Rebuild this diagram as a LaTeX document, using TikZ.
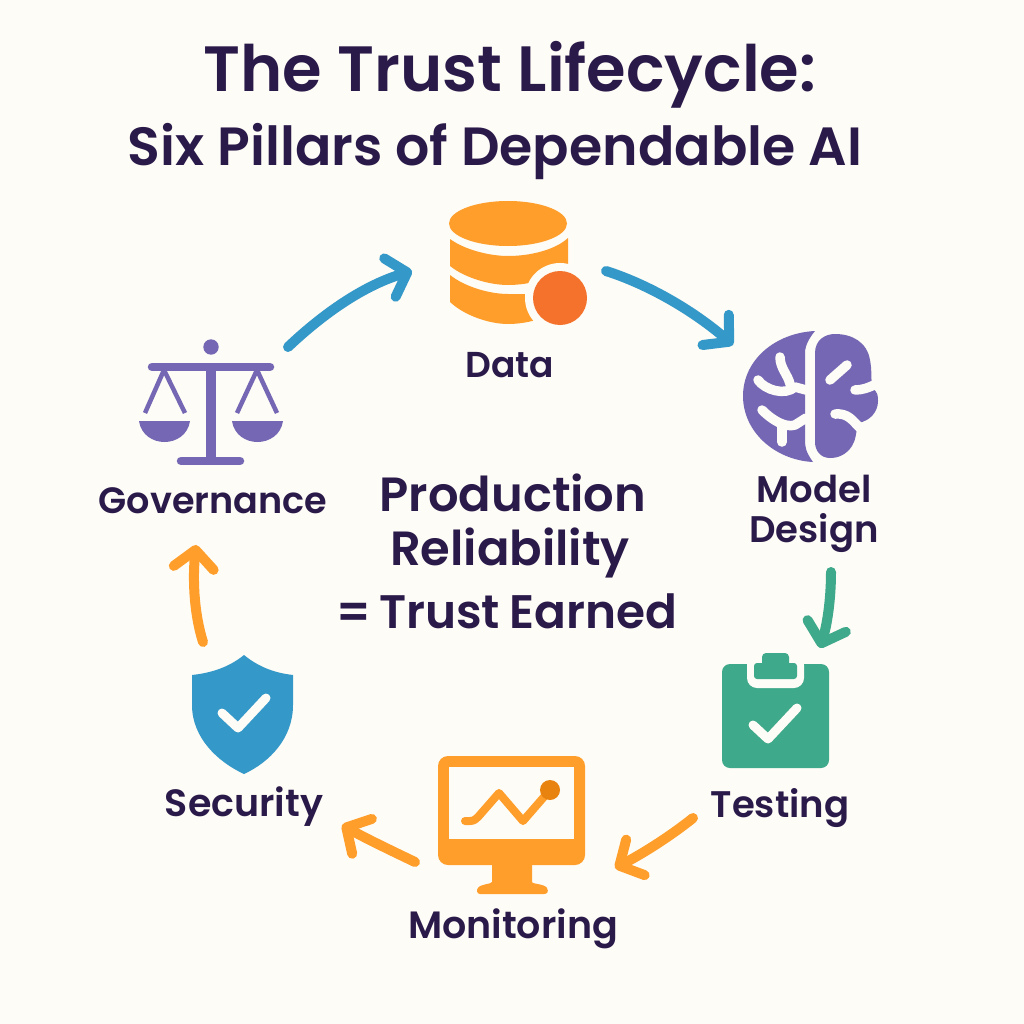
\documentclass[tikz,border=0pt]{standalone}
\usepackage{fontspec}
\setmainfont{Poppins SemiBold}
\usetikzlibrary{arrows.meta}
\definecolor{bgc}{HTML}{FEFCF6}
\definecolor{ink}{HTML}{2A1A4A}
\definecolor{purp}{HTML}{7667B5}
\definecolor{orng}{HTML}{FF9E2B}
\definecolor{deep}{HTML}{F4722B}
\definecolor{dark}{HTML}{E8830F}
\definecolor{blu}{HTML}{3498C9}
\definecolor{grn}{HTML}{3FA98B}
\tikzset{
  lab/.style={text=ink,inner sep=0pt,align=center,font=\fontsize{#1}{#1}\selectfont},
  flow/.style={line width=10pt,line cap=round,-{Straight Barb[length=18pt,width=40pt,round]}},
  gap/.style={draw=bgc,line width=9.5pt,line cap=round,line join=round},
  thick bar/.style={draw=purp,line width=8.5pt,line cap=round},
  strut/.style={draw=purp,line width=4.5pt,line cap=butt},
  check/.style={draw=bgc,line width=9pt,line cap=round,line join=round}
}
\begin{document}
\begin{tikzpicture}[x=1pt,y=-1pt]
\fill[bgc] (0,0) rectangle (1024,1024);
\useasboundingbox (0,0) rectangle (1024,1024);
% title
\node[lab=64] (t1) at (510,75) {The Trust Lifecycle:};
\node[lab=53.8] (t2) at (495,152) {Six Pillars of Dependable AI};
% database
\fill[orng] (508,223.5) ellipse [x radius=59,y radius=22.5];
\fill[orng] (450,239) .. controls (465,250) and (490,256) .. (508,256) .. controls (530,256) and (555,250) .. (568,238) -- (568,266) .. controls (555,278) and (530,285) .. (508,285) .. controls (490,285) and (465,278) .. (450,266) -- cycle;
\fill[orng] (450,275) .. controls (465,287) and (490,294) .. (508,294) -- (568,294) -- (568,302) .. controls (555,316) and (530,324) .. (508,324) .. controls (490,324) and (465,316) .. (450,302) -- cycle;
\fill[bgc] (560,298) circle (35);
\fill[deep] (560,298) circle (27);
% brain
\fill[purp] (815,331) .. controls (775,333) and (743,360) .. (743,396) .. controls (743,432) and (775,460) .. (813,462) .. controls (808,455) and (805,450) .. (805,440) -- (805,353) .. controls (805,345) and (810,337) .. (815,331) -- cycle;
\fill[purp] (815,353) .. controls (815,340) and (825,334) .. (835,334) .. controls (852,334) and (867,342) .. (870,360) .. controls (872,370) and (871,380) .. (872,388) .. controls (878,392) and (878,396) .. (878,401) .. controls (878,412) and (870,421) .. (858,423) .. controls (856,432) and (856,440) .. (852,446) .. controls (846,455) and (838,458) .. (830,458) .. controls (820,458) and (815,450) .. (815,442) -- cycle;
\draw[gap] (758,380) .. controls (765,390) and (785,396) .. (795,387) -- (806,390);
\draw[gap] (780,357) .. controls (780,368) and (788,375) .. (790,384);
\draw[gap] (762,410) .. controls (772,420) and (785,428) .. (795,425) -- (806,418);
\draw[gap] (782,442) -- (782,427);
\draw[gap] (830,380) -- (847,365);
\draw[gap] (855,390) .. controls (862,390) and (868,388) .. (876,384);
\draw[gap] (835,414) .. controls (848,413) and (852,420) .. (860,428);
% scales
\fill[purp] (211,347) circle (7.7);
\draw[thick bar] (152,367) -- (270,367);
\draw[purp,line width=10pt] (211,367) -- (211,461);
\draw[thick bar] (181,461) -- (240,461);
\draw[strut] (145,413) -- (164,370) -- (185,413);
\draw[strut] (237,413) -- (257,370) -- (277,413);
\fill[purp] (139,421) -- (190,421) .. controls (188,435) and (176,442) .. (164.5,442) .. controls (153,442) and (141,435) .. (139,421) -- cycle;
\fill[purp] (232,421) -- (283,421) .. controls (281,435) and (269,442) .. (257.5,442) .. controls (246,442) and (234,435) .. (232,421) -- cycle;
% clipboard
\fill[grn,rounded corners=8pt] (722,664) rectangle (829,768);
\fill[bgc,rounded corners=10pt] (747,655) rectangle (804,688);
\fill[grn,rounded corners=3pt] (754,663) rectangle (797,679);
\fill[grn,rounded corners=4pt] (762,653) rectangle (789,670);
\draw[check] (753,725) -- (768,739) -- (797,708);
% monitor
\fill[orng,rounded corners=10pt] (438,756) rectangle (585,865);
\fill[bgc] (449,767) rectangle (574,839);
\fill[orng] (492,860) -- (532,860) -- (532,882) .. controls (532,884) and (545,884) .. (547,888) .. controls (549,892) and (547,894) .. (544,894) -- (480,894) .. controls (477,894) and (476,890) .. (478,888) .. controls (480,884) and (492,884) .. (492,882) -- cycle;
\draw[orng,line width=8pt,line cap=round,line join=round] (465,821) -- (470,821) .. controls (474,821) and (476,819) .. (478,817) -- (499,793) -- (523,821) -- (550,790);
\fill[dark] (550,790) circle (10);
% shield
\fill[blu] (244,655) .. controls (228,668) and (210,673) .. (192,675) -- (192,705) .. controls (192,738) and (218,762) .. (244,774) .. controls (270,762) and (293,738) .. (293,705) -- (293,675) .. controls (276,673) and (260,668) .. (244,655) -- cycle;
\draw[check] (222,713) -- (238,728) -- (266,698);
% labels
\node[lab=36] (data) at (510,365) {Data};
\node[lab=37] (model) at (814,514) {Model\\[3pt]Design};
\node[lab=37] (test) at (780,808) {Testing};
\node[lab=38] (moni) at (513,929) {Monitoring};
\node[lab=38] (secu) at (244,807) {Security};
\node[lab=36.6] (gove) at (213,501) {Governance};
\node[lab=48] (c1) at (513,493) {Production};
\node[lab=48] (c2) at (510,553) {Reliability};
\node[lab=47] (c3) at (507,611) {\spaceskip=0.2em =\,Trust Earned};
% connector ends
\coordinate (a1) at (288,347); \coordinate (b1) at (412,271);
\coordinate (a2) at (606,271); \coordinate (b2) at (733,345);
\coordinate (a3) at (831,572); \coordinate (b3) at (820,648);
\coordinate (a4) at (693,818); \coordinate (b4) at (615,868);
\coordinate (a5) at (415,862); \coordinate (b5) at (342,825);
\coordinate (a6) at (203,642); \coordinate (b6) at (196,545);
\draw[flow,blu] (a1) .. controls (325,312) and (365,285) .. (b1);
\draw[flow,blu] (a2) .. controls (650,285) and (695,312) .. (b2);
\draw[flow,grn] (a3) .. controls (831,600) and (827,625) .. (b3);
\draw[flow,orng] (a4) .. controls (668,838) and (640,855) .. (b4);
\draw[flow,orng] (a5) .. controls (390,850) and (365,838) .. (b5);
\draw[flow,orng] (a6) .. controls (193,610) and (193,575) .. (b6);
\end{tikzpicture}
\end{document}
